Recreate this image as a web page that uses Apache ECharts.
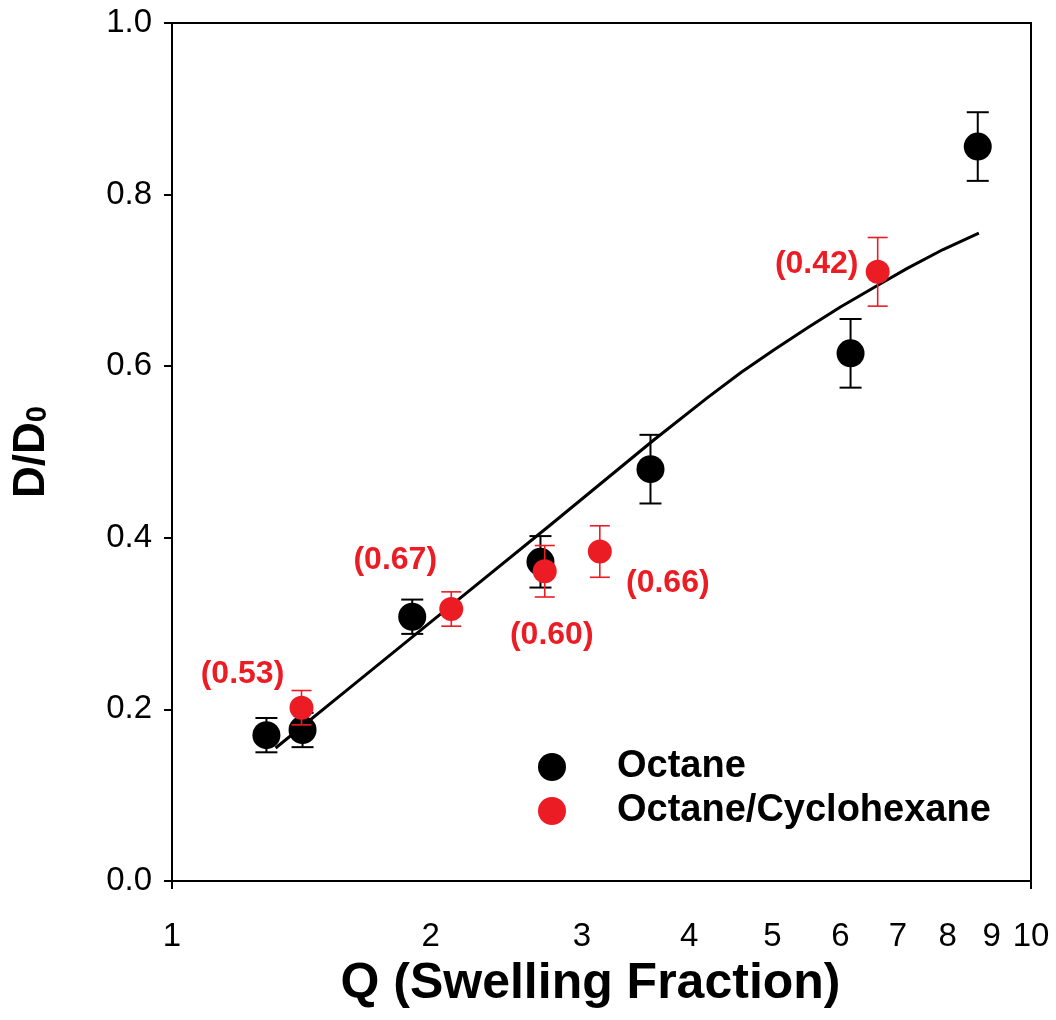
<!DOCTYPE html>
<html><head><meta charset="utf-8">
<script src="https://cdn.jsdelivr.net/npm/echarts@6/dist/echarts.min.js"></script>
<style>html,body{margin:0;padding:0;background:#fff}#c{width:1056px;height:1020px}</style>
</head><body><div id="c"></div>
<script>
// ---- data ----
const octaneQ   = [1.288, 1.419, 1.904, 2.685, 3.606, 6.165, 8.67];
const octaneD   = [0.170, 0.176, 0.308, 0.372, 0.480, 0.615, 0.856];
const octaneErr = [0.02, 0.02, 0.02, 0.03, 0.04, 0.04, 0.04];

const mixQ   = [1.415, 2.114, 2.716, 3.148, 6.63];
const mixD   = [0.202, 0.317, 0.361, 0.384, 0.710];
const mixErr = [0.02, 0.02, 0.03, 0.03, 0.04];
const mixLabels = ['(0.53)', '(0.67)', '(0.60)', '(0.66)', '(0.42)'];

const fitQ = [1.32, 1.614, 2.1, 2.75, 3.638, 4.198, 4.6, 5.018, 5.5, 6.0, 6.648, 7.177, 7.9, 8.696];
const fitD = [0.155, 0.226, 0.319, 0.414, 0.514, 0.563, 0.593, 0.619, 0.645, 0.669, 0.695, 0.714, 0.736, 0.755];

const xTickLabels = [1, 2, 3, 4, 5, 6, 7, 8, 9, 10];
const yTickLabels = [0, 0.2, 0.4, 0.6, 0.8, 1.0];

// ---- styling ----
const FONT = 'Liberation Sans, Arial, Helvetica, sans-serif';
const RED = '#EC1C24';
const labelOffsets = [[-59, -34], [-56, -49], [7, 64], [68, 32], [-61, -8]];

function errorBars(qs, ds, es, color, cap, lw, z) {
  return {
    type: 'custom',
    silent: true,
    z: z,
    data: qs.map((q, i) => [q, ds[i], es[i]]),
    encode: { x: 0, y: 1 },
    renderItem: function (params, api) {
      const x = api.value(0), y = api.value(1), e = api.value(2);
      const t = api.coord([x, y + e]);
      const b = api.coord([x, y - e]);
      const h = cap / 2;
      const st = { stroke: color, lineWidth: lw };
      return {
        type: 'group',
        children: [
          { type: 'line', shape: { x1: t[0], y1: t[1], x2: b[0], y2: b[1] }, style: st },
          { type: 'line', shape: { x1: t[0] - h, y1: t[1], x2: t[0] + h, y2: t[1] }, style: st },
          { type: 'line', shape: { x1: b[0] - h, y1: b[1], x2: b[0] + h, y2: b[1] }, style: st }
        ]
      };
    }
  };
}

const chart = echarts.init(document.getElementById('c'), null, { renderer: 'canvas' });
chart.setOption({
  animation: false,
  backgroundColor: '#fff',
  textStyle: { fontFamily: FONT },
  grid: { left: 172, top: 23, width: 859, height: 858, show: true, borderColor: '#000', borderWidth: 2, backgroundColor: 'transparent' },
  legend: {
    data: ['Octane', 'Octane/Cyclohexane'],
    orient: 'vertical',
    left: 538, top: 748,
    padding: 0,
    itemWidth: 28, itemHeight: 28, itemGap: 6,
    icon: 'circle',
    textStyle: { fontFamily: FONT, fontSize: 38, fontWeight: 'bold', color: '#000', lineHeight: 38, padding: [0, 0, 0, 46] }
  },
  xAxis: {
    type: 'log', logBase: 10, min: 1, max: 10,
    name: 'Q (Swelling Fraction)', nameLocation: 'middle', nameGap: 78,
    nameTextStyle: { fontFamily: FONT, fontSize: 50, fontWeight: 'bold', color: '#000', padding: [0, 22, 0, 0] },
    axisLine: { show: true, lineStyle: { color: '#000', width: 2 } },
    axisTick: { show: true, length: 8, lineStyle: { color: '#000', width: 2 } },
    minorTick: { show: false },
    splitLine: { show: false },
    axisLabel: { customValues: xTickLabels, fontFamily: FONT, fontSize: 33, color: '#000', margin: 39, formatter: v => String(Math.round(v)) }
  },
  yAxis: {
    type: 'value', min: 0, max: 1, interval: 0.2,
    name: '{a|D/D}{b|0}', nameLocation: 'middle', nameRotate: 90, nameGap: 118,
    nameTextStyle: {
      color: '#000',
      rich: {
        a: { fontFamily: FONT, fontSize: 44, fontWeight: 'bold', color: '#000' },
        b: { fontFamily: FONT, fontSize: 29, fontWeight: 'bold', color: '#000', verticalAlign: 'bottom', padding: [0, 0, 2, 0] }
      }
    },
    axisLine: { show: true, lineStyle: { color: '#000', width: 2 } },
    axisTick: { show: true, length: 8, lineStyle: { color: '#000', width: 2 } },
    splitLine: { show: false },
    axisLabel: { fontFamily: FONT, fontSize: 33, color: '#000', margin: 20, customValues: yTickLabels, formatter: v => Number(v).toFixed(1) }
  },
  series: [
    {
      type: 'line', name: 'fit', data: fitQ.map((q, i) => [q, fitD[i]]),
      showSymbol: false, smooth: false, z: 2, silent: true,
      lineStyle: { color: '#000', width: 3, join: 'round' }
    },
    errorBars(octaneQ, octaneD, octaneErr, '#000', 22, 2, 3),
    {
      type: 'scatter', name: 'Octane', z: 4,
      data: octaneQ.map((q, i) => [q, octaneD[i]]),
      symbol: 'circle', symbolSize: 28,
      itemStyle: { color: '#000', opacity: 1 }
    },
    errorBars(mixQ, mixD, mixErr, RED, 20, 1.6, 5),
    {
      type: 'scatter', name: 'Octane/Cyclohexane', z: 6,
      data: mixQ.map((q, i) => ({
        value: [q, mixD[i]],
        label: { offset: labelOffsets[i] }
      })),
      symbol: 'circle', symbolSize: 24,
      itemStyle: { color: RED, opacity: 1 },
      label: {
        show: true, position: 'inside',
        formatter: p => mixLabels[p.dataIndex],
        fontFamily: FONT, fontSize: 32, fontWeight: 'bold', color: RED
      }
    }
  ]
});
</script>
</body></html>
